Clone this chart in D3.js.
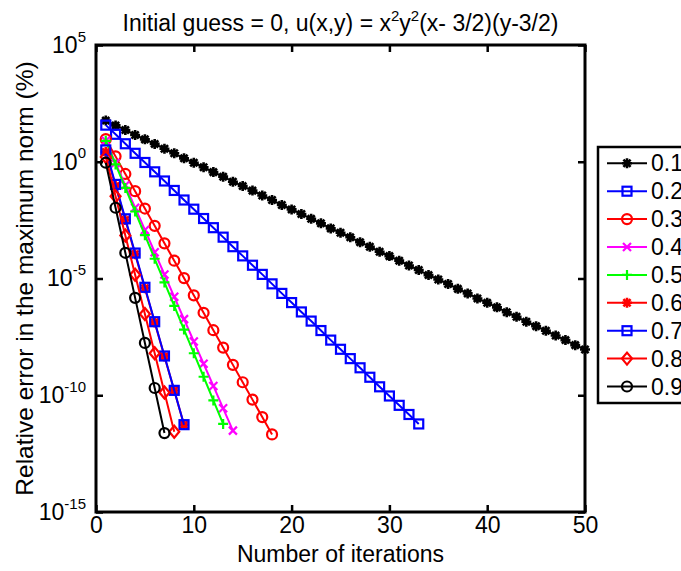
<!DOCTYPE html>
<html>
<head>
<meta charset="utf-8">
<script src="https://cdn.jsdelivr.net/npm/d3@7"></script>
<style>
  body { margin: 0; background: #fff; }
  text { font-family: "Liberation Sans", Arial, sans-serif; fill: #000; }
</style>
</head>
<body>
<svg id="chart" width="681" height="571"></svg>
<script>
// legend labels, colours and marker shapes
const labels = ["0.1", "0.2", "0.3", "0.4", "0.5", "0.6", "0.7", "0.8", "0.9"];
const colors = ["#000000", "#0000ff", "#ff0000", "#ff00ff", "#00ff00", "#ff0000", "#0000ff", "#ff0000", "#000000"];
const markers = ["asterisk", "square", "circle", "x", "plus", "asterisk", "square", "diamond", "circle"];

// relative error (%) per iteration, iteration 1 first
const err01 = [5.8e1, 3.6e1, 2.3e1, 1.4e1, 9.1e0, 5.8e0, 3.6e0, 2.3e0, 1.4e0, 9.1e-1,
  5.8e-1, 3.6e-1, 2.3e-1, 1.4e-1, 9.1e-2, 5.8e-2, 3.6e-2, 2.3e-2, 1.4e-2, 9.1e-3,
  5.8e-3, 3.6e-3, 2.3e-3, 1.4e-3, 9.1e-4, 5.8e-4, 3.6e-4, 2.3e-4, 1.4e-4, 9.1e-5,
  5.8e-5, 3.6e-5, 2.3e-5, 1.4e-5, 9.1e-6, 5.8e-6, 3.6e-6, 2.3e-6, 1.4e-6, 9.1e-7,
  5.8e-7, 3.6e-7, 2.3e-7, 1.4e-7, 9.1e-8, 5.8e-8, 3.6e-8, 2.3e-8, 1.4e-8, 9.1e-9];
const err02 = [3.7e1, 1.5e1, 5.9e0, 2.3e0, 9.3e-1, 3.7e-1, 1.5e-1, 5.9e-2, 2.3e-2, 9.3e-3,
  3.7e-3, 1.5e-3, 5.9e-4, 2.3e-4, 9.3e-5, 3.7e-5, 1.5e-5, 5.9e-6, 2.3e-6, 9.3e-7,
  3.7e-7, 1.5e-7, 5.9e-8, 2.3e-8, 9.3e-9, 3.7e-9, 1.5e-9, 5.9e-10, 2.3e-10, 9.3e-11,
  3.7e-11, 1.5e-11, 5.9e-12];
const err03 = [9.3e0, 1.7e0, 3.0e-1, 5.5e-2, 9.9e-3, 1.8e-3, 3.2e-4, 5.8e-5, 1.04e-5,
  1.9e-6, 3.4e-7, 6.1e-8, 1.1e-8, 2.0e-9, 3.6e-10, 6.5e-11, 1.16e-11, 2.1e-12];
const err04 = [7.9e0, 8.8e-1, 9.8e-2, 1.08e-2, 1.2e-3, 1.33e-4, 1.48e-5, 1.64e-6, 1.82e-7,
  2.0e-8, 2.24e-9, 2.5e-10, 2.75e-11, 3.05e-12];
const err05 = [7.9e0, 7.7e-1, 7.6e-2, 7.4e-3, 7.2e-4, 7.0e-5, 6.8e-6, 6.7e-7, 6.5e-8,
  6.3e-9, 6.2e-10, 6.0e-11, 5.9e-12];
const err06 = [2.6e0, 9.1e-2, 3.2e-3, 1.1e-4, 3.8e-6, 1.32e-7, 4.6e-9, 1.6e-10, 5.5e-12];
const err07 = [3.2e0, 1.07e-1, 3.6e-3, 1.23e-4, 4.2e-6, 1.41e-7, 4.8e-9, 1.62e-10, 5.5e-12];
const err08 = [1.6e0, 3.3e-2, 6.9e-4, 1.45e-5, 3.0e-7, 6.3e-9, 1.32e-10, 2.75e-12];
const err09 = [9.1e-1, 1.07e-2, 1.26e-4, 1.48e-6, 1.74e-8, 2.04e-10, 2.4e-12];

// axis ticks
const xTicks = [0, 10, 20, 30, 40, 50];
const yTickExp = [5, 0, -5, -10, -15];

const seriesData = [err01, err02, err03, err04, err05, err06, err07, err08, err09];

const plot = {left: 96, right: 585, top: 45, bottom: 512};
const svg = d3.select("#chart");

const x = d3.scaleLinear().domain([0, 50]).range([plot.left, plot.right]);
const y = d3.scaleLog().domain([1e-15, 1e5]).range([plot.bottom, plot.top]);

/**
 * Draws one marker shape centred on 0,0 inside g
 */
function drawMarker(g, shape, color) {
    const sw = 2.2;
    if (shape === "square") {
        g.append("rect").attr("x", -4.5).attr("y", -4.5).attr("width", 9).attr("height", 9)
            .attr("fill", "none").attr("stroke", color).attr("stroke-width", sw);
    } else if (shape === "circle") {
        g.append("circle").attr("r", 5).attr("fill", "none")
            .attr("stroke", color).attr("stroke-width", sw);
    } else if (shape === "diamond") {
        g.append("path").attr("d", "M0,-6L5,0L0,6L-5,0Z").attr("fill", "none")
            .attr("stroke", color).attr("stroke-width", sw);
    } else if (shape === "x") {
        g.append("path").attr("d", "M-4,-4L4,4M-4,4L4,-4")
            .attr("stroke", color).attr("stroke-width", sw);
    } else if (shape === "plus") {
        g.append("path").attr("d", "M-5,0L5,0M0,-5L0,5")
            .attr("stroke", color).attr("stroke-width", sw);
    } else if (shape === "asterisk") {
        g.append("path").attr("d", "M-5,0L5,0M0,-5L0,5M-3.6,-3.6L3.6,3.6M-3.6,3.6L3.6,-3.6")
            .attr("stroke", color).attr("stroke-width", 2.6);
    }
}

// plot background
svg.append("rect")
    .attr("x", plot.left).attr("y", plot.top)
    .attr("width", plot.right - plot.left).attr("height", plot.bottom - plot.top)
    .attr("fill", "#fff");

const plotArea = svg.append("g");

const line = d3.line()
    .x((d, i) => x(i + 1))
    .y(d => y(d));

seriesData.forEach((values, k) => {
    const g = plotArea.append("g");
    g.append("path")
        .datum(values)
        .attr("d", line)
        .attr("fill", "none")
        .attr("stroke", colors[k])
        .attr("stroke-width", 2);
    values.forEach((v, i) => {
        const m = g.append("g").attr("transform", `translate(${x(i + 1)},${y(v)})`);
        drawMarker(m, markers[k], colors[k]);
    });
});

const tickStyle = sel => {
    sel.select(".domain").remove();
    sel.selectAll(".tick line").attr("stroke", "#000").attr("stroke-width", 2.5);
};

svg.append("g")
    .attr("transform", `translate(0,${plot.bottom})`)
    .call(d3.axisBottom(x).tickValues(xTicks).tickSizeInner(-7).tickSizeOuter(0).tickPadding(5))
    .call(tickStyle)
    .call(g => g.selectAll(".tick text").attr("font-size", 23).attr("fill", "#000")
        .attr("font-family", "Liberation Sans, Arial, sans-serif"));

svg.append("g")
    .attr("transform", `translate(0,${plot.top})`)
    .call(d3.axisTop(x).tickValues(xTicks).tickSizeInner(-7).tickSizeOuter(0).tickFormat(""))
    .call(tickStyle);

const yTickVals = yTickExp.map(e => Math.pow(10, e));

svg.append("g")
    .attr("transform", `translate(${plot.left},0)`)
    .call(d3.axisLeft(y).tickValues(yTickVals).tickSizeInner(-7).tickSizeOuter(0).tickPadding(10))
    .call(tickStyle)
    .call(g => g.selectAll(".tick text").each(function(d, i) {
        const t = d3.select(this).text(null)
            .attr("font-size", 23).attr("fill", "#000")
            .attr("font-family", "Liberation Sans, Arial, sans-serif");
        t.append("tspan").text("10");
        t.append("tspan").attr("font-size", 15).attr("dy", "-0.75em").text(yTickExp[i]);
    }));

svg.append("g")
    .attr("transform", `translate(${plot.right},0)`)
    .call(d3.axisRight(y).tickValues(yTickVals).tickSizeInner(-7).tickSizeOuter(0).tickFormat(""))
    .call(tickStyle);

// box
svg.append("rect")
    .attr("x", plot.left).attr("y", plot.top)
    .attr("width", plot.right - plot.left).attr("height", plot.bottom - plot.top)
    .attr("fill", "none").attr("stroke", "#000").attr("stroke-width", 3);

// title
const title = svg.append("text")
    .attr("x", (plot.left + plot.right) / 2).attr("y", 31)
    .attr("text-anchor", "middle").attr("font-size", 23);
title.append("tspan").text("Initial guess = 0, u(x,y) = x");
title.append("tspan").attr("font-size", 15).attr("dy", -10).text("2");
title.append("tspan").attr("dy", 10).text("y");
title.append("tspan").attr("font-size", 15).attr("dy", -10).text("2");
title.append("tspan").attr("dy", 10).text("(x- 3/2)(y-3/2)");

// axis labels
svg.append("text")
    .attr("x", (plot.left + plot.right) / 2).attr("y", 562)
    .attr("text-anchor", "middle").attr("font-size", 23)
    .text("Number of iterations");

svg.append("text")
    .attr("transform", `translate(33,${(plot.top + plot.bottom) / 2}) rotate(-90)`)
    .attr("text-anchor", "middle").attr("font-size", 24.5)
    .text("Relative error in the maximum norm (%)");

// legend
const legend = svg.append("g").attr("transform", "translate(598,147)");
legend.append("rect")
    .attr("width", 120).attr("height", 256)
    .attr("fill", "#fff").attr("stroke", "#000").attr("stroke-width", 2.5);
labels.forEach((lab, k) => {
    const row = legend.append("g").attr("transform", `translate(0,${16.3 + k * 27.9})`);
    row.append("line").attr("x1", 9).attr("x2", 49)
        .attr("stroke", colors[k]).attr("stroke-width", 2);
    drawMarker(row.append("g").attr("transform", "translate(29,0)"), markers[k], colors[k]);
    row.append("text").attr("x", 53).attr("y", 8).attr("font-size", 23).text(lab);
});
</script>
</body>
</html>
